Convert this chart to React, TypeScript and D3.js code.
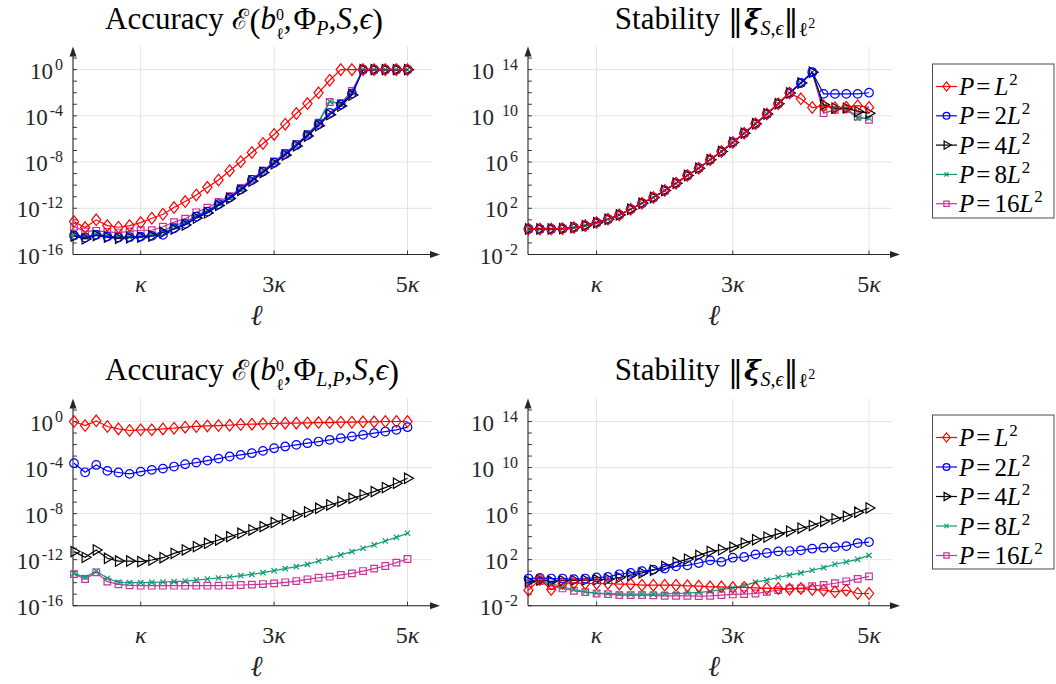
import React, { useRef, useEffect } from 'react';
import * as d3 from 'd3';

// sample index along ℓ, in steps of κ/6
const ellSteps = [0, 1, 2, 3, 4, 5, 6, 7, 8, 9, 10, 11, 12, 13, 14, 15, 16, 17, 18, 19, 20, 21, 22, 23, 24, 25, 26, 27, 28, 29, 30];
const xTicks = [6, 18, 30];
const xTickLabels = [['', 'κ'], ['3', 'κ'], ['5', 'κ']];
const accTicks = [-16, -12, -8, -4, 0];
const stabTicks = [-2, 2, 6, 10, 14];
const legendCoef = ['', '2', '4', '8', '16'];

// all values are log10 of what is plotted
// top left: accuracy with Phi_P
const accP_L2 = [-13.15, -13.67, -13.0, -13.5, -13.64, -13.5, -13.24, -12.86, -12.52, -11.94, -11.42, -10.85, -10.19, -9.55, -8.75, -7.97, -7.17, -6.39, -5.61, -4.72, -3.8, -2.94, -2.01, -0.92, 0, 0, 0, 0, 0, 0, 0];
const accP_2L2 = [-14.36, -14.53, -14.3, -14.45, -14.53, -14.5, -14.45, -14.39, -14.3, -13.73, -13.35, -12.72, -12.29, -11.65, -11.08, -10.36, -9.55, -8.83, -8.06, -7.31, -6.53, -5.67, -4.72, -3.74, -3.02, -2.07, 0, 0, 0, 0, 0];
const accP_4L2 = [-14.4, -14.65, -14.35, -14.5, -14.6, -14.55, -14.5, -14.4, -14.1, -13.8, -13.45, -12.85, -12.4, -11.75, -11.15, -10.45, -9.65, -8.9, -8.15, -7.4, -6.6, -5.75, -4.85, -3.9, -3.15, -2.2, 0, 0, 0, 0, 0];
const accP_8L2 = [-14.3, -14.5, -14.25, -14.4, -14.5, -14.45, -14.4, -14.3, -14.0, -13.5, -13.2, -12.6, -12.2, -11.6, -11.05, -10.35, -9.55, -8.8, -8.05, -7.3, -6.5, -5.65, -4.5, -2.75, -3.0, -2.0, 0, 0, 0, 0, 0];
const accP_16L2 = [-13.6, -14.0, -13.95, -14.05, -14.1, -14.0, -13.9, -13.9, -13.6, -13.2, -12.9, -12.35, -11.95, -11.45, -10.95, -10.25, -9.45, -8.75, -7.95, -7.2, -6.45, -5.6, -4.6, -2.8, -2.9, -1.85, 0, 0, 0, 0, 0];

// top right: stability with Phi_P
const stabP_L2 = [0.21, 0.21, 0.21, 0.24, 0.33, 0.5, 0.76, 1.05, 1.43, 1.92, 2.44, 2.93, 3.54, 4.17, 4.84, 5.47, 6.2, 6.92, 7.7, 8.5, 9.32, 10.16, 11.05, 11.98, 11.47, 10.72, 10.85, 10.7, 10.75, 10.88, 10.73];
const stabP_2L2 = [0.21, 0.21, 0.21, 0.24, 0.33, 0.5, 0.76, 1.05, 1.43, 1.92, 2.44, 2.93, 3.54, 4.17, 4.84, 5.47, 6.2, 6.92, 7.7, 8.5, 9.32, 10.16, 11.05, 11.98, 12.84, 13.77, 11.9, 11.9, 11.9, 11.9, 12.0];
const stabP_4L2 = [0.21, 0.21, 0.21, 0.24, 0.33, 0.5, 0.76, 1.05, 1.43, 1.92, 2.44, 2.93, 3.54, 4.17, 4.84, 5.47, 6.2, 6.92, 7.7, 8.5, 9.32, 10.16, 11.05, 11.98, 12.84, 13.77, 10.96, 10.67, 10.67, 10.38, 10.23];
const stabP_8L2 = [0.21, 0.21, 0.21, 0.24, 0.33, 0.5, 0.76, 1.05, 1.43, 1.92, 2.44, 2.93, 3.54, 4.17, 4.84, 5.47, 6.2, 6.92, 7.7, 8.5, 9.32, 10.16, 11.05, 11.98, 12.84, 13.77, 10.85, 10.65, 10.55, 9.8, 9.8];
const stabP_16L2 = [0.21, 0.21, 0.21, 0.24, 0.33, 0.5, 0.76, 1.05, 1.43, 1.92, 2.44, 2.93, 3.54, 4.17, 4.84, 5.47, 6.2, 6.92, 7.7, 8.5, 9.32, 10.16, 11.05, 11.98, 12.84, 13.77, 10.23, 10.52, 10.6, 9.94, 9.66];

// bottom left: accuracy with Phi_{L,P}
const accLP_L2 = [0, -0.35, 0.06, -0.43, -0.64, -0.78, -0.72, -0.72, -0.64, -0.58, -0.49, -0.43, -0.38, -0.35, -0.32, -0.26, -0.23, -0.2, -0.17, -0.14, -0.14, -0.12, -0.09, -0.09, -0.06, -0.06, -0.03, -0.03, 0, 0, 0];
const accLP_2L2 = [-3.62, -4.41, -3.77, -4.29, -4.43, -4.55, -4.35, -4.2, -4.09, -3.91, -3.71, -3.57, -3.39, -3.22, -3.04, -2.9, -2.75, -2.55, -2.32, -2.17, -2.03, -1.88, -1.74, -1.59, -1.45, -1.3, -1.16, -1.01, -0.87, -0.72, -0.49];
const accLP_4L2 = [-11.3, -11.8, -11.16, -11.88, -12.12, -12.12, -12.17, -12.03, -11.83, -11.45, -11.16, -10.87, -10.58, -10.29, -10.0, -9.71, -9.42, -9.13, -8.78, -8.49, -8.17, -7.86, -7.54, -7.25, -6.96, -6.67, -6.38, -6.09, -5.74, -5.36, -4.93];
const accLP_8L2 = [-13.19, -13.54, -12.99, -13.62, -13.97, -14.0, -14.0, -13.97, -13.94, -13.91, -13.86, -13.77, -13.68, -13.59, -13.51, -13.39, -13.28, -13.13, -12.96, -12.78, -12.61, -12.41, -12.12, -11.88, -11.59, -11.3, -11.01, -10.72, -10.38, -10.06, -9.71];
const accLP_16L2 = [-13.25, -13.68, -13.1, -13.91, -14.14, -14.23, -14.26, -14.26, -14.26, -14.26, -14.26, -14.26, -14.26, -14.26, -14.23, -14.2, -14.17, -14.12, -14.06, -13.97, -13.86, -13.71, -13.57, -13.48, -13.33, -13.19, -12.99, -12.78, -12.55, -12.26, -11.94];

// bottom right: stability with Phi_{L,P}
const stabLP_L2 = [-0.65, 0.27, -0.59, -0.07, -0.01, -0.07, -0.07, -0.07, -0.13, -0.13, -0.22, -0.22, -0.22, -0.22, -0.27, -0.3, -0.36, -0.36, -0.42, -0.42, -0.45, -0.5, -0.5, -0.56, -0.5, -0.59, -0.65, -0.79, -0.65, -0.94, -0.94];
const stabLP_2L2 = [0.36, 0.42, 0.36, 0.36, 0.3, 0.36, 0.45, 0.5, 0.73, 0.85, 1.0, 1.14, 1.22, 1.42, 1.51, 1.71, 1.94, 1.8, 2.17, 2.23, 2.46, 2.58, 2.72, 2.75, 2.81, 2.95, 3.04, 3.09, 3.18, 3.44, 3.53];
const stabLP_4L2 = [0.1, 0.22, 0.12, 0.18, 0.2, 0.22, 0.25, 0.3, 0.45, 0.65, 0.85, 1.08, 1.42, 1.75, 2.05, 2.37, 2.72, 2.86, 3.09, 3.44, 3.73, 3.96, 4.24, 4.47, 4.73, 4.96, 5.34, 5.54, 5.77, 6.12, 6.49];
const stabLP_8L2 = [0.07, 0.07, -0.07, -0.36, -0.59, -0.79, -0.9, -0.94, -0.97, -0.99, -0.99, -0.99, -0.97, -0.94, -0.9, -0.85, -0.75, -0.6, -0.45, -0.25, 0.05, 0.22, 0.45, 0.65, 0.85, 1.08, 1.31, 1.6, 1.8, 2.03, 2.37];
const stabLP_16L2 = [-0.07, 0.13, -0.3, -0.5, -0.7, -0.82, -0.94, -0.99, -1.08, -1.08, -1.08, -1.1, -1.14, -1.14, -1.14, -1.17, -1.14, -1.08, -1.02, -0.99, -0.94, -0.79, -0.65, -0.5, -0.5, -0.3, -0.2, -0.05, 0.12, 0.33, 0.55];

const SERIES = [
  { color: '#ff0000', marker: 'diamond' },
  { color: '#0000ff', marker: 'circle' },
  { color: '#000000', marker: 'triangle' },
  { color: '#0c9c78', marker: 'times' },
  { color: '#cc3399', marker: 'square' },
];

const SERIF = '"Liberation Serif", "DejaVu Serif", serif';
const DJV = '"DejaVu Serif", serif';
const AXIS = '#262626';

type Sel = d3.Selection<any, unknown, null, undefined>;

const markerPath = (kind: string, k = 1) => {
  if (kind === 'diamond') {
    const w = 4.6 * k, h = 5.8 * k;
    return `M0,${-h}L${w},0L0,${h}L${-w},0Z`;
  }
  if (kind === 'circle') return d3.symbol(d3.symbolCircle, 58 * k * k)()!;
  if (kind === 'triangle') return d3.symbol(d3.symbolTriangle, 46 * k * k)()!;
  if (kind === 'times') return d3.symbol(d3.symbolTimes, 20 * k * k)()!;
  return d3.symbol(d3.symbolSquare, 44 * k * k)()!;
};

const drawMarker = (g: Sel, kind: string, color: string, cx: number, cy: number, k = 1) => {
  g.append('path')
    .attr('d', markerPath(kind, k))
    .attr('transform', `translate(${cx},${cy})${kind === 'triangle' ? ' rotate(90)' : ''}`)
    .attr('fill', 'none')
    .attr('stroke', color)
    .attr('stroke-width', 1.2);
};

const accTitle = (g: Sel, cx: number, cy: number, sub: string) => {
  const t = g.append('text').attr('x', cx).attr('y', cy).attr('text-anchor', 'middle')
    .attr('font-family', SERIF).attr('font-size', 31).attr('fill', '#000');
  t.append('tspan').text('Accuracy ');
  t.append('tspan').attr('font-family', DJV).attr('font-size', 28).text('ℰ');
  t.append('tspan').attr('font-size', 33).attr('dx', 1).attr('dy', 3).text('(');
  t.append('tspan').attr('font-style', 'italic').attr('dy', -3).text('b');
  // stacked superscript 0 and subscript ℓ
  t.append('tspan').attr('font-size', 16).attr('dy', -9).text('0');
  t.append('tspan').attr('font-size', 16).attr('dx', -8).attr('dy', 19).text('ℓ');
  t.append('tspan').attr('dy', -10).text(',');
  t.append('tspan').attr('dx', 2).text('Φ');
  t.append('tspan').attr('font-size', 20).attr('font-style', 'italic').attr('dy', 6).text(sub);
  t.append('tspan').attr('dy', -6).text(',');
  t.append('tspan').attr('font-style', 'italic').text('S');
  t.append('tspan').text(',');
  t.append('tspan').attr('font-style', 'italic').text('ϵ');
  t.append('tspan').attr('font-size', 33).attr('dy', 3).text(')');
};

const stabTitle = (g: Sel, cx: number, cy: number) => {
  const t = g.append('text').attr('x', cx).attr('y', cy).attr('text-anchor', 'middle')
    .attr('font-family', SERIF).attr('font-size', 31).attr('fill', '#000');
  t.append('tspan').text('Stability');
  t.append('tspan').attr('font-family', DJV).attr('font-size', 30).attr('dx', 8).attr('dy', 2).text('‖');
  t.append('tspan').attr('font-family', DJV).attr('font-weight', 'bold').attr('font-style', 'italic')
    .attr('font-size', 28).attr('dx', 1).attr('dy', -2).text('ξ');
  t.append('tspan').attr('font-size', 20).attr('font-style', 'italic').attr('dy', 6).text('S');
  t.append('tspan').attr('font-size', 20).text(',');
  t.append('tspan').attr('font-size', 20).attr('font-style', 'italic').text('ϵ');
  t.append('tspan').attr('font-family', DJV).attr('font-size', 30).attr('dy', -4).text('‖');
  t.append('tspan').attr('font-size', 20).attr('dy', 5).text('ℓ');
  t.append('tspan').attr('font-size', 14).attr('dy', -8).text('2');
};

interface Panel {
  values: number[][];
  ticks: number[];
  lo: number;
  hi: number;
  axisX: number;
  x0: number;
  x30: number;
  tipX: number;
  top: number;
  bottom: number;
}

const drawPanel = (svg: Sel, p: Panel) => {
  const x = d3.scaleLinear().domain([0, 30]).range([p.x0, p.x30]);
  const y = d3.scaleLog().domain([10 ** p.lo, 10 ** p.hi]).range([p.bottom, p.top]);
  const g = svg.append('g');

  // grid
  p.ticks.forEach((t) => {
    g.append('line').attr('x1', p.axisX).attr('x2', p.tipX - 8)
      .attr('y1', y(10 ** t)).attr('y2', y(10 ** t))
      .attr('stroke', '#e3e3e3').attr('stroke-width', 1);
  });
  xTicks.forEach((t) => {
    g.append('line').attr('x1', x(t)).attr('x2', x(t))
      .attr('y1', p.top).attr('y2', p.bottom)
      .attr('stroke', '#e3e3e3').attr('stroke-width', 1);
  });

  // minor decade ticks
  d3.range(p.lo, p.hi).forEach((e) => {
    g.append('line').attr('x1', p.axisX).attr('x2', p.axisX + 4)
      .attr('y1', y(10 ** e)).attr('y2', y(10 ** e))
      .attr('stroke', AXIS).attr('stroke-width', 0.9);
  });
  xTicks.forEach((t) => {
    g.append('line').attr('x1', x(t)).attr('x2', x(t))
      .attr('y1', p.bottom).attr('y2', p.bottom - 4)
      .attr('stroke', AXIS).attr('stroke-width', 0.9);
  });

  // axes with arrows
  g.append('line').attr('x1', p.axisX).attr('x2', p.tipX - 6)
    .attr('y1', p.bottom).attr('y2', p.bottom).attr('stroke', AXIS).attr('stroke-width', 1.1);
  g.append('line').attr('x1', p.axisX).attr('x2', p.axisX)
    .attr('y1', p.bottom).attr('y2', p.top + 6).attr('stroke', AXIS).attr('stroke-width', 1.1);
  g.append('path')
    .attr('d', `M${p.tipX},${p.bottom}L${p.tipX - 10},${p.bottom - 3.5}L${p.tipX - 10},${p.bottom + 3.5}Z`)
    .attr('fill', AXIS);
  g.append('path')
    .attr('d', `M${p.axisX},${p.top}L${p.axisX - 3.5},${p.top + 10}L${p.axisX + 3.5},${p.top + 10}Z`)
    .attr('fill', AXIS);

  // y tick labels
  p.ticks.forEach((t) => {
    const tx = g.append('text').attr('x', p.axisX - 10).attr('y', y(10 ** t) + 9)
      .attr('text-anchor', 'end').attr('font-family', SERIF).attr('font-size', 23).attr('fill', AXIS);
    tx.append('tspan').text('10');
    tx.append('tspan').attr('font-size', 16).attr('dx', t >= 10 ? 8 : 2).attr('dy', -9)
      .text(t < 0 ? `-${-t}` : `${t}`);
  });

  // x tick labels
  xTicks.forEach((t, i) => {
    const tx = g.append('text').attr('x', x(t)).attr('y', p.bottom + 37.5)
      .attr('text-anchor', 'middle').attr('font-family', SERIF).attr('font-size', 24).attr('fill', AXIS);
    if (xTickLabels[i][0]) tx.append('tspan').text(xTickLabels[i][0]);
    tx.append('tspan').attr('font-style', 'italic').text(xTickLabels[i][1]);
  });
  g.append('text').attr('x', (p.axisX + p.tipX) / 2).attr('y', p.bottom + 70)
    .attr('text-anchor', 'middle').attr('font-family', SERIF).attr('font-size', 29)
    .attr('font-style', 'italic').attr('fill', AXIS).text('ℓ');

  // series, last legend entry drawn first
  const line = d3.line<number>().x((_, i) => x(ellSteps[i])).y((v) => y(10 ** v));
  for (let s = SERIES.length - 1; s >= 0; s--) {
    const { color, marker } = SERIES[s];
    const vals = p.values[s];
    g.append('path').attr('d', line(vals)!).attr('fill', 'none')
      .attr('stroke', color).attr('stroke-width', 1.2);
    vals.forEach((v, i) => drawMarker(g, marker, color, x(ellSteps[i]), y(10 ** v)));
  }
};

const drawLegend = (svg: Sel, top: number, step: number) => {
  const g = svg.append('g');
  g.append('rect').attr('x', 932.5).attr('y', top).attr('width', 121.5).attr('height', 154)
    .attr('fill', '#fff').attr('stroke', '#4d4d4d').attr('stroke-width', 1);
  SERIES.forEach((s, i) => {
    const cy = top + 22.5 + i * step;
    g.append('line').attr('x1', 936).attr('x2', 957).attr('y1', cy).attr('y2', cy)
      .attr('stroke', s.color).attr('stroke-width', 1.2);
    drawMarker(g, s.marker, s.color, 946.5, cy, 0.8);
    const t = g.append('text').attr('x', 959).attr('y', cy + 8.5)
      .attr('font-family', SERIF).attr('font-size', 25).attr('fill', '#000');
    t.append('tspan').attr('font-style', 'italic').text('P');
    t.append('tspan').attr('dx', 2).text('=');
    if (legendCoef[i]) t.append('tspan').attr('dx', 4).text(legendCoef[i]);
    t.append('tspan').attr('font-style', 'italic').attr('dx', legendCoef[i] ? 0 : 4).text('L');
    t.append('tspan').attr('font-size', 17).attr('dx', 1).attr('dy', -10).text('2');
  });
};

const App: React.FC = () => {
  const svgRef = useRef<SVGSVGElement>(null);

  useEffect(() => {
    if (!svgRef.current) return;
    const svg = d3.select(svgRef.current);
    svg.selectAll('*').remove();
    svg.append('rect').attr('width', 1056).attr('height', 684).attr('fill', '#fff');

    const left = { axisX: 73, x0: 74, x30: 407.5, tipX: 440 };
    const right = { axisX: 528, x0: 528.5, x30: 869, tipX: 900 };
    const topRow = { top: 46.5, bottom: 254.5 };
    const botRow = { top: 398.5, bottom: 605.7 };

    drawPanel(svg, {
      values: [accP_L2, accP_2L2, accP_4L2, accP_8L2, accP_16L2],
      ticks: accTicks, lo: -16, hi: 2, ...left, ...topRow,
    });
    drawPanel(svg, {
      values: [stabP_L2, stabP_2L2, stabP_4L2, stabP_8L2, stabP_16L2],
      ticks: stabTicks, lo: -2, hi: 16, ...right, ...topRow,
    });
    drawPanel(svg, {
      values: [accLP_L2, accLP_2L2, accLP_4L2, accLP_8L2, accLP_16L2],
      ticks: accTicks, lo: -16, hi: 2, ...left, ...botRow,
    });
    drawPanel(svg, {
      values: [stabLP_L2, stabLP_2L2, stabLP_4L2, stabLP_8L2, stabLP_16L2],
      ticks: stabTicks, lo: -2, hi: 16, ...right, ...botRow,
    });

    accTitle(svg, 244, 29, 'P');
    stabTitle(svg, 715, 29);
    accTitle(svg, 252, 380, 'L,P');
    stabTitle(svg, 715, 380);

    drawLegend(svg, 64, 29.3);
    drawLegend(svg, 415, 29.5);
  }, []);

  return (
    <div style={{ position: 'absolute', left: 0, top: 0 }}>
      <svg ref={svgRef} width={1056} height={684} style={{ display: 'block' }} />
    </div>
  );
};

export default App;
